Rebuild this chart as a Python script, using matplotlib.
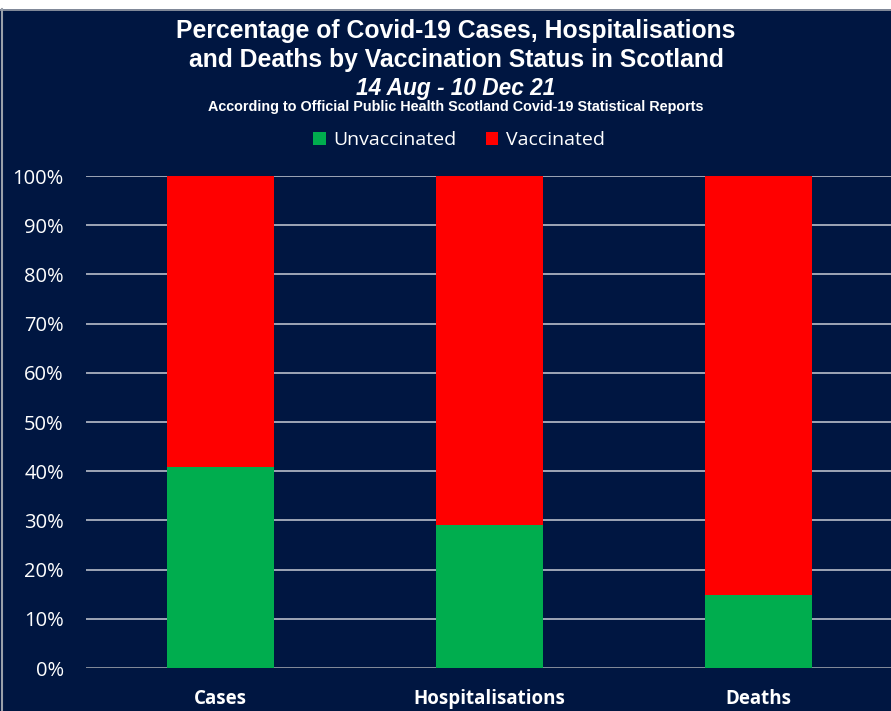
import matplotlib
matplotlib.use("Agg")
import matplotlib.pyplot as plt
from matplotlib.patches import Rectangle
from matplotlib.lines import Line2D
from matplotlib.ticker import FuncFormatter, MultipleLocator

categories = ["Cases", "Hospitalisations", "Deaths"]
unvaccinated = [40.9, 29.1, 14.8]
vaccinated = [100 - u for u in unvaccinated]

navy = "#001641"
green = "#00ad4e"
red = "#ff0000"

W, H = 891, 711
fig = plt.figure(figsize=(W / 100, H / 100), dpi=100)
fig.patch.set_facecolor(navy)

# white strip at top
fig.add_artist(Rectangle((0, 1 - 9 / H), 1, 9 / H, transform=fig.transFigure,
                         facecolor="white", edgecolor="none"))
fig.add_artist(Line2D([0, 1], [1 - 9.5 / H] * 2, transform=fig.transFigure,
                      color="#9aa0aa", lw=1.2))
fig.add_artist(Line2D([2 / W, 2 / W], [0, 1 - 9 / H], transform=fig.transFigure,
                      color="#9aa0aa", lw=1.5))

left, right = 86 / W, 893 / W
bottom, top = (H - 668) / H, (H - 176) / H
ax = fig.add_axes([left, bottom, right - left, top - bottom])
ax.set_facecolor(navy)

x = range(len(categories))
ax.bar(x, unvaccinated, width=0.4, color=green, zorder=3, label="Unvaccinated")
ax.bar(x, vaccinated, width=0.4, bottom=unvaccinated, color=red, zorder=3, label="Vaccinated")

ax.set_xlim(-0.5, 2.5)
ax.set_ylim(0, 100)
ax.yaxis.set_major_locator(MultipleLocator(10))
ax.yaxis.set_major_formatter(FuncFormatter(lambda v, p: f"{int(v)}%"))
ax.grid(axis="y", color="#aab1bf", lw=1.3, zorder=1)
ax.axhline(0, color="#7d8594", lw=2, zorder=2)
for s in ax.spines.values():
    s.set_visible(False)
ax.tick_params(axis="both", length=0)
ax.tick_params(axis="y", colors="white", labelsize=14.5, pad=16)
ax.set_xticks(list(x))
ax.set_xticklabels(categories, color="white", fontsize=13.5, fontweight="bold")
ax.tick_params(axis="x", pad=15)
for lbl in ax.get_yticklabels() + ax.get_xticklabels():
    lbl.set_family("Open Sans")

cx = 456 / W
fig.text(cx, 1 - 31 / H, "Percentage of Covid-19 Cases, Hospitalisations",
         ha="center", va="center", color="white", fontsize=17.8, fontweight="bold",
         family="Liberation Sans")
fig.text(cx, 1 - 60 / H, "and Deaths by Vaccination Status in Scotland",
         ha="center", va="center", color="white", fontsize=17.8, fontweight="bold",
         family="Liberation Sans")
fig.text(cx, 1 - 88 / H, "14 Aug - 10 Dec 21",
         ha="center", va="center", color="white", fontsize=16.3, fontweight="bold",
         style="italic", family="Liberation Sans")
fig.text(cx, 1 - 107 / H, "According to Official Public Health Scotland Covid-19 Statistical Reports",
         ha="center", va="center", color="white", fontsize=10.4, fontweight="bold",
         family="Liberation Sans")

leg = fig.legend(loc="center", bbox_to_anchor=(459 / W, 1 - 140 / H), ncol=2, frameon=False,
                 handlelength=0.65, handleheight=0.65, handletextpad=0.4, columnspacing=1.5,
                 prop={"family": "Open Sans", "size": 14})
for t in leg.get_texts():
    t.set_color("white")

fig.savefig("out.png", dpi=100, facecolor=fig.get_facecolor())
